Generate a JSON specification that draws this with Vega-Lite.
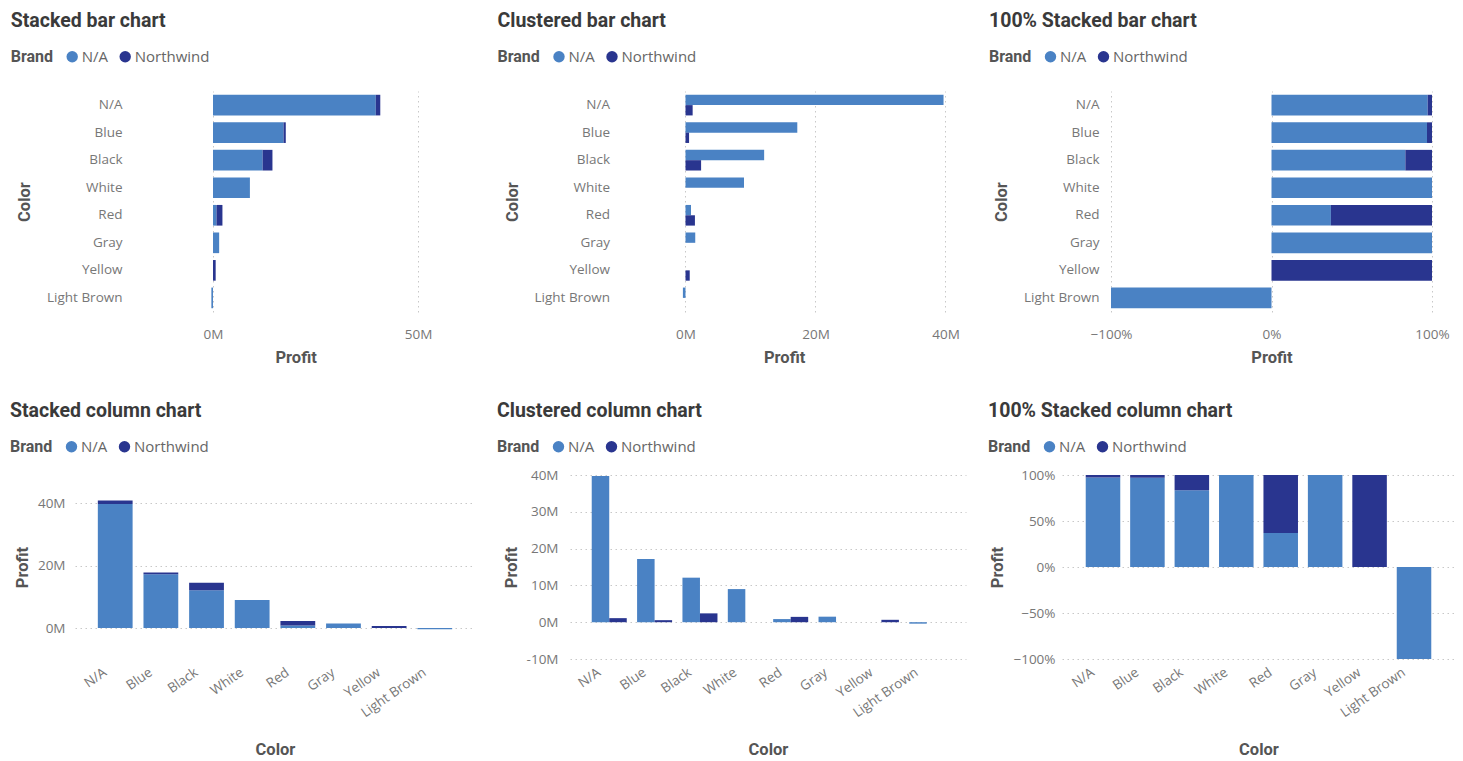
{
  "$schema": "https://vega.github.io/schema/vega-lite/v6.json",
  "padding": {"left": 10, "top": 10, "right": 4, "bottom": 4},
  "datasets": {
    "profit": [
      {"Color": "N/A", "Brand": "N/A", "Profit": 39.7, "Share": 0.973},
      {"Color": "N/A", "Brand": "Northwind", "Profit": 1.1, "Share": 0.027},
      {"Color": "Blue", "Brand": "N/A", "Profit": 17.2, "Share": 0.969},
      {"Color": "Blue", "Brand": "Northwind", "Profit": 0.55, "Share": 0.031},
      {"Color": "Black", "Brand": "N/A", "Profit": 12.1, "Share": 0.834},
      {"Color": "Black", "Brand": "Northwind", "Profit": 2.4, "Share": 0.166},
      {"Color": "White", "Brand": "N/A", "Profit": 9.0, "Share": 1.0},
      {"Color": "Red", "Brand": "N/A", "Profit": 0.85, "Share": 0.37},
      {"Color": "Red", "Brand": "Northwind", "Profit": 1.45, "Share": 0.63},
      {"Color": "Gray", "Brand": "N/A", "Profit": 1.5, "Share": 1.0},
      {"Color": "Yellow", "Brand": "Northwind", "Profit": 0.65, "Share": 1.0},
      {"Color": "Light Brown", "Brand": "N/A", "Profit": -0.4, "Share": -1.0}
    ]
  },
  "resolve": {"scale": {"color": "independent"}},
  "spacing": 34,
  "vconcat": [
    {
      "spacing": 20,
      "resolve": {"scale": {"color": "independent"}},
      "hconcat": [
        {
          "title": "Stacked bar chart",
          "width": 402, "height": 221,
          "data": {"name": "profit"},
          "mark": "bar",
          "encoding": {
            "y": {"field": "Color", "type": "nominal", "sort": ["N/A", "Blue", "Black", "White", "Red", "Gray", "Yellow", "Light Brown"], "scale": {"paddingInner": 0.25, "paddingOuter": 0.137}, "axis": {"title": "Color", "offset": -138, "labelPadding": 91, "titlePadding": 14}},
            "x": {"field": "Profit", "type": "quantitative", "stack": "zero", "scale": {"domain": [-33.66, 64.39], "nice": false, "zero": false}, "axis": {"title": "Profit", "values": [0, 50], "labelExpr": "datum.value + 'M'", "labelPadding": 15, "titlePadding": 9, "titleX": 220.6}},
            "color": {"field": "Brand", "type": "nominal", "scale": {"domain": ["N/A", "Northwind"], "range": ["#4a82c4", "#29358f"]}, "legend": {"legendX": -64.3, "legendY": -42}},
            "order": {"field": "Brand", "type": "ordinal", "sort": "ascending"}
          }
        },
        {
          "title": "Clustered bar chart",
          "width": 289.5, "height": 221,
          "data": {"name": "profit"},
          "mark": "bar",
          "encoding": {
            "y": {"field": "Color", "type": "nominal", "sort": ["N/A", "Blue", "Black", "White", "Red", "Gray", "Yellow", "Light Brown"], "scale": {"paddingInner": 0.25, "paddingOuter": 0.137}, "axis": {"title": "Color", "labelPadding": 69.5, "titlePadding": 14}},
            "yOffset": {"field": "Brand", "type": "nominal", "scale": {"domain": ["N/A", "Northwind"]}},
            "x": {"field": "Profit", "type": "quantitative", "stack": null, "scale": {"domain": [-1, 43.54], "nice": false, "zero": false}, "axis": {"title": "Profit", "values": [0, 20, 40], "labelExpr": "datum.value + 'M'", "labelPadding": 15, "titlePadding": 9, "titleX": 105.1}},
            "color": {"field": "Brand", "type": "nominal", "scale": {"domain": ["N/A", "Northwind"], "range": ["#4a82c4", "#29358f"]}, "legend": {"legendX": -181.5, "legendY": -42}}
          }
        },
        {
          "title": "100% Stacked bar chart",
          "width": 321, "height": 221,
          "data": {"name": "profit"},
          "mark": "bar",
          "encoding": {
            "y": {"field": "Color", "type": "nominal", "sort": ["N/A", "Blue", "Black", "White", "Red", "Gray", "Yellow", "Light Brown"], "scale": {"paddingInner": 0.25, "paddingOuter": 0.137}, "axis": {"title": "Color", "labelPadding": 12, "titlePadding": 14}},
            "x": {"field": "Share", "type": "quantitative", "stack": "zero", "scale": {"domain": [-1, 1], "nice": false, "zero": false}, "axis": {"title": "Profit", "values": [-1, 0, 1], "format": ".0%", "labelPadding": 15, "titlePadding": 9}},
            "color": {"field": "Brand", "type": "nominal", "scale": {"domain": ["N/A", "Northwind"], "range": ["#4a82c4", "#29358f"]}, "legend": {"legendX": -122, "legendY": -42}},
            "order": {"field": "Brand", "type": "ordinal", "sort": "ascending"}
          }
        }
      ]
    },
    {
      "spacing": 22,
      "resolve": {"scale": {"color": "independent"}},
      "hconcat": [
        {
          "title": "Stacked column chart",
          "width": 400, "height": 184,
          "data": {"name": "profit"},
          "mark": "bar",
          "encoding": {
            "x": {"field": "Color", "type": "nominal", "sort": ["N/A", "Blue", "Black", "White", "Red", "Gray", "Yellow", "Light Brown"], "scale": {"paddingInner": 0.238, "paddingOuter": 0.5}, "axis": {"title": "Color", "labelAngle": -35, "labelPadding": 6, "labelOffset": -14, "titlePadding": 22}},
            "y": {"field": "Profit", "type": "quantitative", "stack": "zero", "scale": {"domain": [-9.9, 49], "nice": false, "zero": false}, "axis": {"title": "Profit", "values": [0, 20, 40], "labelExpr": "datum.value + 'M'", "labelPadding": 10, "titlePadding": 7}},
            "color": {"field": "Brand", "type": "nominal", "scale": {"domain": ["N/A", "Northwind"], "range": ["#4a82c4", "#29358f"]}, "legend": {"legendX": -65, "legendY": -36}},
            "order": {"field": "Brand", "type": "ordinal", "sort": "ascending"}
          }
        },
        {
          "title": "Clustered column chart",
          "width": 396, "height": 184,
          "data": {"name": "profit"},
          "mark": "bar",
          "encoding": {
            "x": {"field": "Color", "type": "nominal", "sort": ["N/A", "Blue", "Black", "White", "Red", "Gray", "Yellow", "Light Brown"], "scale": {"paddingInner": 0.228, "paddingOuter": 0.479}, "axis": {"title": "Color", "labelAngle": -35, "labelPadding": 6, "labelOffset": -14, "titlePadding": 22}},
            "xOffset": {"field": "Brand", "type": "nominal", "scale": {"domain": ["N/A", "Northwind"]}},
            "y": {"field": "Profit", "type": "quantitative", "stack": null, "scale": {"domain": [-10, 40], "nice": false, "zero": false}, "axis": {"title": "Profit", "values": [-10, 0, 10, 20, 30, 40], "labelExpr": "datum.value + 'M'", "labelPadding": 12, "titlePadding": 7}},
            "color": {"field": "Brand", "type": "nominal", "scale": {"domain": ["N/A", "Northwind"], "range": ["#4a82c4", "#29358f"]}, "legend": {"legendX": -73, "legendY": -36}}
          }
        },
        {
          "title": "100% Stacked column chart",
          "width": 393, "height": 184,
          "data": {"name": "profit"},
          "mark": "bar",
          "encoding": {
            "x": {"field": "Color", "type": "nominal", "sort": ["N/A", "Blue", "Black", "White", "Red", "Gray", "Yellow", "Light Brown"], "scale": {"paddingInner": 0.223, "paddingOuter": 0.534}, "axis": {"title": "Color", "labelAngle": -35, "labelPadding": 6, "labelOffset": -14, "titlePadding": 22}},
            "y": {"field": "Share", "type": "quantitative", "stack": "zero", "scale": {"domain": [-1, 1], "nice": false, "zero": false}, "axis": {"title": "Profit", "values": [-1, -0.5, 0, 0.5, 1], "format": ".0%", "labelPadding": 7, "titlePadding": 7}},
            "color": {"field": "Brand", "type": "nominal", "scale": {"domain": ["N/A", "Northwind"], "range": ["#4a82c4", "#29358f"]}, "legend": {"legendX": -74, "legendY": -36}},
            "order": {"field": "Brand", "type": "ordinal", "sort": "ascending"}
          }
        }
      ]
    }
  ],
  "config": {
    "view": {"stroke": null},
    "font": "Open Sans",
    "axis": {"domain": false, "ticks": false, "labelColor": "#777777", "labelFont": "Open Sans", "labelFontSize": 13.5, "titleFont": "Roboto", "titleFontSize": 16.5, "titleFontWeight": "bold", "titleColor": "#555555", "gridColor": "#c8c8c8", "gridDash": [1.5, 3.5], "labelFlush": false, "labelOverlap": false},
    "legend": {"orient": "none", "direction": "horizontal", "titleOrient": "left", "symbolType": "circle", "symbolSize": 130, "symbolStrokeWidth": 0, "symbolOpacity": 1, "labelFont": "Open Sans", "labelFontSize": 15, "labelColor": "#666666", "titleFont": "Roboto", "titleFontSize": 16, "titleFontWeight": "bold", "titleColor": "#555555", "titlePadding": 11, "labelOffset": 2, "columnPadding": 9, "padding": 0},
    "title": {"anchor": "start", "frame": "bounds", "font": "Roboto", "fontSize": 19.5, "fontWeight": "bold", "color": "#3a3a3a", "offset": 18}
  }
}
